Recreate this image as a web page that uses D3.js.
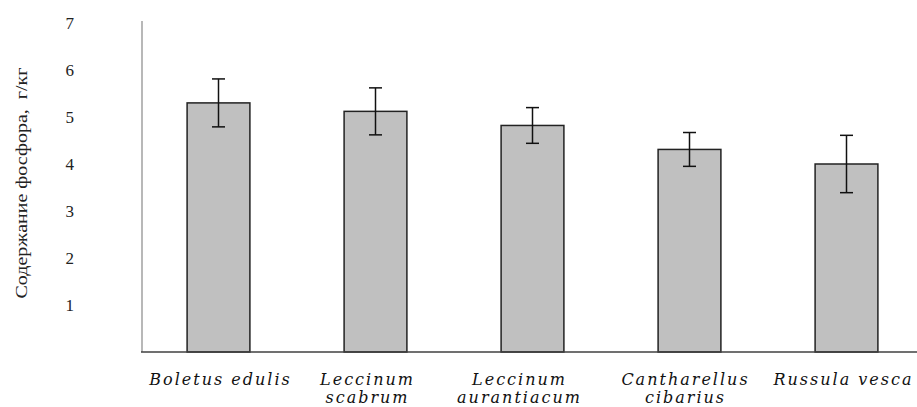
<!DOCTYPE html>
<html><head><meta charset="utf-8">
<script src="https://cdn.jsdelivr.net/npm/d3@7"></script>
<style>body{margin:0;background:#fff}svg{display:block}text{white-space:pre}</style>
</head><body>
<svg id="c" width="917" height="407"></svg>
<script>
const categories = [["Boletus edulis"], ["Leccinum", "scabrum"], ["Leccinum", "aurantiacum"], ["Cantharellus", "cibarius"], ["Russula vesca"]];
const values = [5.3, 5.12, 4.82, 4.31, 4.0];
const errors = [0.51, 0.5, 0.38, 0.36, 0.61];
const yTicks = [1, 2, 3, 4, 5, 6, 7];
const yTitle = "Содержание фосфора,  г/кг";

const svg = d3.select("#c");
const x = d3.scaleBand().domain(d3.range(categories.length)).range([140, 925]).paddingInner(0.6).paddingOuter(0.3);
const y = d3.scaleLinear().domain([0, 7]).range([352, 23]);

// axes
svg.append("line").attr("x1", 142).attr("x2", 142).attr("y1", 21).attr("y2", y(0))
  .attr("stroke", "#a0a0a0").attr("stroke-width", 1.5);

const yAxis = d3.axisLeft(y).tickValues(yTicks).tickSize(0).tickPadding(0).tickFormat(d3.format("d"));
const ga = svg.append("g").attr("transform", "translate(74,0)").call(yAxis);
ga.select(".domain").remove();
ga.selectAll("text").attr("font-family", "Liberation Serif, serif").attr("font-size", 17).attr("fill", "#222");

svg.append("text").attr("transform", "translate(27,183) rotate(-90)")
  .attr("text-anchor", "middle").attr("font-family", "Liberation Serif, serif").attr("font-size", 17)
  .attr("fill", "#222").attr("textLength", 231).attr("lengthAdjust", "spacingAndGlyphs").text(yTitle);

// bars
svg.selectAll("rect.bar").data(values).join("rect").attr("class", "bar")
  .attr("x", (d, i) => x(i)).attr("width", x.bandwidth())
  .attr("y", d => y(d)).attr("height", d => y(0) - y(d))
  .attr("fill", "#c0c0c0").attr("stroke", "#222").attr("stroke-width", 1.5);

// x axis
svg.append("line").attr("x1", 141).attr("x2", 917).attr("y1", y(0)).attr("y2", y(0))
  .attr("stroke", "#404040").attr("stroke-width", 1.5);

// error bars
const eg = svg.selectAll("g.err").data(values).join("g").attr("class", "err");
eg.append("line").attr("x1", (d, i) => x(i) + x.bandwidth() / 2).attr("x2", (d, i) => x(i) + x.bandwidth() / 2)
  .attr("y1", (d, i) => y(d + errors[i])).attr("y2", (d, i) => y(d - errors[i]))
  .attr("stroke", "#111").attr("stroke-width", 1.5);
[1, -1].forEach(s => {
  eg.append("line").attr("x1", (d, i) => x(i) + x.bandwidth() / 2 - 6.5).attr("x2", (d, i) => x(i) + x.bandwidth() / 2 + 6.5)
    .attr("y1", (d, i) => y(d + s * errors[i])).attr("y2", (d, i) => y(d + s * errors[i]))
    .attr("stroke", "#111").attr("stroke-width", 1.5);
});

// category labels
const offs = [2, -8, -13, -4, -3];
categories.forEach((lines, i) => {
  const t = svg.append("text").attr("text-anchor", "middle").attr("font-family", "DejaVu Serif, serif")
    .attr("font-style", "italic").attr("font-size", 16).attr("letter-spacing", 2).attr("fill", "#111");
  lines.forEach((ln, j) => {
    t.append("tspan").attr("x", x(i) + x.bandwidth() / 2 + offs[i]).attr("y", 385 + j * 18).text(ln);
  });
});
</script>
</body></html>
